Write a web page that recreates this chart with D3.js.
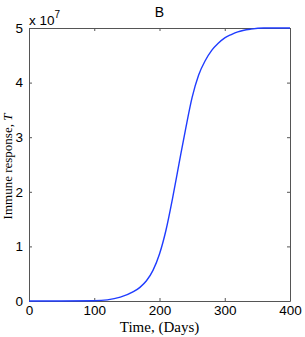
<!DOCTYPE html>
<html>
<head>
<meta charset="utf-8">
<script src="https://cdn.jsdelivr.net/npm/d3@7"></script>
<style>
body { margin: 0; background: #fff; }
</style>
</head>
<body>
<div id="chart"></div>
<script>
// values, T in units of 1e7
var days = [0, 50, 100, 120, 140, 160, 170, 180, 190, 200, 210, 220, 230, 240, 250, 260, 270, 280, 290, 300, 310, 320, 340, 360, 400];
var response = [0, 0, 0.005, 0.02, 0.07, 0.17, 0.25, 0.37, 0.56, 0.86, 1.3, 1.88, 2.52, 3.15, 3.73, 4.14, 4.40, 4.59, 4.72, 4.82, 4.88, 4.93, 4.98, 5.0, 5.0];
var xTicks = [0, 100, 200, 300, 400];
var yTicks = [0, 1, 2, 3, 4, 5];

var width = 305, height = 337;
var margin = {top: 28, right: 15, bottom: 36, left: 29};
var w = width - margin.left - margin.right;
var h = height - margin.top - margin.bottom;

var svg = d3.select('#chart')
	.append('svg')
	.attr('width', width)
	.attr('height', height);

var g = svg.append('g')
	.attr('transform', 'translate(' + margin.left + ',' + margin.top + ')');

var x = d3.scaleLinear().domain([0, 400]).range([0, w]);
var y = d3.scaleLinear().domain([0, 5]).range([h, 0]);

var tickFont = '"Liberation Sans", Arial, sans-serif';
var frameColor = '#555';

// bottom + left axes with labels, ticks pointing inward
g.append('g')
	.attr('transform', 'translate(0,' + h + ')')
	.call(d3.axisBottom(x).tickValues(xTicks).tickFormat(d3.format('d'))
		.tickSizeInner(-3).tickSizeOuter(0).tickPadding(4));
g.append('g')
	.call(d3.axisLeft(y).tickValues(yTicks).tickFormat(d3.format('d'))
		.tickSizeInner(-3).tickSizeOuter(0).tickPadding(6));

// top + right mirror ticks
g.append('g')
	.call(d3.axisTop(x).tickValues(xTicks).tickSizeInner(-3).tickSizeOuter(0).tickFormat(''));
g.append('g')
	.attr('transform', 'translate(' + w + ',0)')
	.call(d3.axisRight(y).tickValues(yTicks).tickSizeInner(-3).tickSizeOuter(0).tickFormat(''));

g.selectAll('.domain').attr('stroke', frameColor);
g.selectAll('.tick line').attr('stroke', frameColor);
g.selectAll('.tick text')
	.attr('font-family', tickFont)
	.attr('font-size', 13.5)
	.attr('fill', '#000');

var line = d3.line()
	.x(function(d, i){ return x(days[i]); })
	.y(function(d){ return y(d); })
	.curve(d3.curveMonotoneX);

g.append('path')
	.datum(response)
	.attr('fill', 'none')
	.attr('stroke', '#1f3cff')
	.attr('stroke-width', 1.4)
	.attr('d', line);

// title
svg.append('text')
	.attr('x', margin.left + w / 2)
	.attr('y', 17)
	.attr('text-anchor', 'middle')
	.attr('font-family', tickFont)
	.attr('font-size', 14)
	.text('B');

// exponent
var expo = svg.append('text')
	.attr('x', margin.left)
	.attr('y', 25)
	.attr('font-family', tickFont)
	.attr('font-size', 13.5);
expo.append('tspan').text('x 10');
expo.append('tspan').attr('dy', -7).attr('font-size', 10).text('7');

// axis titles
var serif = '"Liberation Serif", "Times New Roman", serif';
svg.append('text')
	.attr('x', margin.left + w / 2)
	.attr('y', 332)
	.attr('text-anchor', 'middle')
	.attr('font-family', serif)
	.attr('font-size', 15)
	.text('Time, (Days)');

var ylab = svg.append('text')
	.attr('transform', 'translate(12,' + (margin.top + h / 2 + 2) + ') rotate(-90)')
	.attr('text-anchor', 'middle')
	.attr('font-family', serif)
	.attr('font-size', 13);
ylab.append('tspan').text('Immune response, ');
ylab.append('tspan').attr('font-style', 'italic').text('T');
</script>
</body>
</html>
